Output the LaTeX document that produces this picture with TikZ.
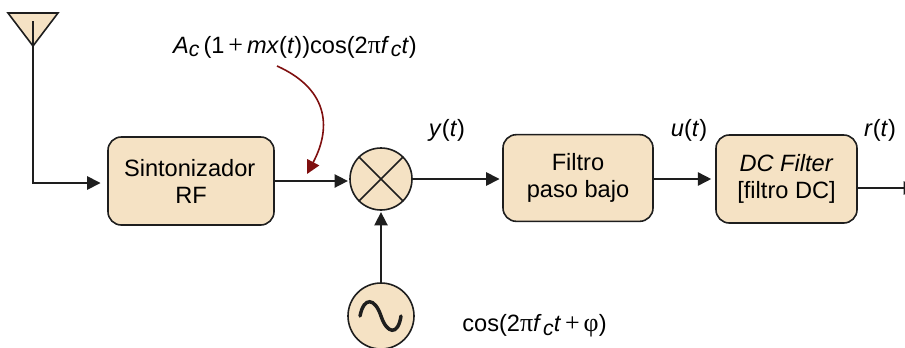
\documentclass[tikz,border=0pt]{standalone}
\usepackage{fontspec}
\setmainfont{Liberation Sans}
\newfontfamily\symfont{Liberation Serif}
\usetikzlibrary{arrows.meta,calc}
\definecolor{boxfill}{HTML}{F5E2C4}
\definecolor{linegray}{HTML}{1E1E1E}
\definecolor{curvered}{HTML}{7F0F0F}
\newcommand{\subc}{\raisebox{-.3ex}{\itshape\fontsize{16}{18}\selectfont c}}
\newcommand{\symc}[1]{{\symfont\fontsize{19.5}{20}\selectfont #1}}
\newcommand{\tvar}[1]{\textit{#1}(\textit{t})}
\tikzset{
  block/.style={draw=linegray,fill=boxfill,line width=1.2pt,rounded corners=10pt,align=center,font=\fontsize{17.7}{20.3}\selectfont},
  roundblock/.style={circle,draw=linegray,fill=boxfill,line width=1.2pt,inner sep=0pt},
  sig/.style={draw=linegray,line width=1.2pt,-{Triangle[length=10pt,width=10pt]}},
  plainlabel/.style={font=\fontsize{17.7}{20.3}\selectfont}
}
\begin{document}
\begin{tikzpicture}[x=.75pt,y=-.75pt]
\useasboundingbox (0,0) rectangle (905,347);
\clip (0,0) rectangle (905,347);
% blocks
\node[block,minimum width=124.5pt,minimum height=66pt] (sint) at (191,181) {\hspace*{-2pt}Sintonizador\\RF};
\node[roundblock,minimum size=46.5pt] (mix) at (381,179) {};
\node[block,minimum width=112.5pt,minimum height=65pt] (lowpass) at (578,178) {Filtro\\paso bajo};
\node[block,minimum width=105.75pt,minimum height=66pt] (dcfilter) at (786.5,179) {\textit{DC Filter}\\{[}filtro DC{]}};
\node[roundblock,minimum size=49.5pt] (osc) at (381,316) {};
% antenna
\filldraw[fill=boxfill,draw=linegray,line width=1.2pt] (8,13)--(58,13)--(33,46)--cycle;
\coordinate (ant) at (33,21);
\coordinate (out) at (917,188);
\coordinate (nota) at (277,66);
\coordinate (notb) at (307,174);
% mixer cross
\draw[linegray,line width=1.2pt] (mix.north west)--(mix.south east);
\draw[linegray,line width=1.2pt] (mix.north east)--(mix.south west);
% sine
\draw[linegray,line width=2.6pt,line cap=round] (360,316) .. controls (364,296) and (375,298) .. (381,316) .. controls (387,334) and (398,336) .. (401,316);
% connectors
\draw[sig,shorten >=5pt] (ant) |- ($(sint.west)+(0,2)$);
\draw[sig,shorten >=1pt] (sint.east) -- (sint.east -| mix.west);
\draw[sig,shorten >=2pt] (mix.east) -- (lowpass.west |- mix.east);
\draw[sig,shorten >=3pt] (lowpass.east |- mix.east) -- (dcfilter.west |- mix.east);
\draw[sig] (dcfilter.east |- out) -- (out);
\draw[sig,shorten >=1pt] (osc.north) -- (mix.south);
\draw[curvered,line width=1.2pt,-{Triangle[length=10pt,width=10pt]}] (nota) .. controls (326,88) and (333,125) .. (notb);
% labels
\node[plainlabel] (lab1) at (295,47) {\textit{A}\subc\,(1\,\symc{+}\,\textit{mx}(\textit{t}))cos(2\symc{π}\textit{f}\kern1pt\subc\textit{t})};
\node[plainlabel] (lab2) at (447,130) {\tvar{y}};
\node[plainlabel] (lab3) at (689,130) {\tvar{u}};
\node[plainlabel] (lab4) at (880,130) {\tvar{r}};
\node[plainlabel] (lab5) at (534.5,326) {cos(2\symc{π}\textit{f}\kern1pt\subc\textit{t}\,\symc{+}\,\symc{φ})};
\end{tikzpicture}
\end{document}
